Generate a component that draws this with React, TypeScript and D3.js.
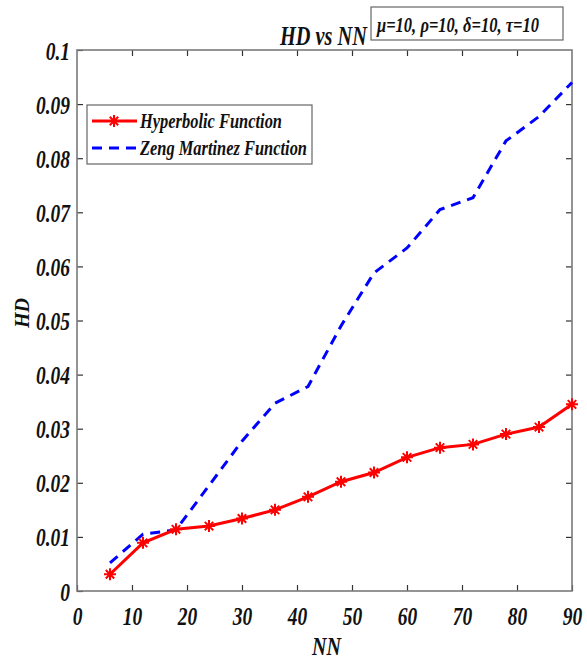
import React, { useEffect, useRef } from "react";
import * as d3 from "d3";

const width = 587;
const height = 661;

// x values (NN) and the two HD series
const nn = [6, 12, 18, 24, 30, 36, 42, 48, 54, 60, 66, 72, 78, 84, 90];
const hyperbolic = [
  0.0031, 0.0089, 0.0114, 0.012, 0.0134, 0.015, 0.0174, 0.0202, 0.0219,
  0.0247, 0.0265, 0.0271, 0.029, 0.0303, 0.0345,
];
const zengMartinez = [
  0.0052, 0.0105, 0.0113, 0.0195, 0.0277, 0.0347, 0.0378, 0.049, 0.0588,
  0.0634, 0.0705, 0.0727, 0.0832, 0.0877, 0.094,
];

const xTicks = [0, 10, 20, 30, 40, 50, 60, 70, 80, 90];
const yTicks = [0, 0.01, 0.02, 0.03, 0.04, 0.05, 0.06, 0.07, 0.08, 0.09, 0.1];
const yTickLabels = ["0", "0.01", "0.02", "0.03", "0.04", "0.05", "0.06", "0.07", "0.08", "0.09", "0.1"];

const seriesNames = ["Hyperbolic Function", "Zeng Martinez Function"];
const titleText = "HD vs NN";
const paramText = "μ=10, ρ=10, δ=10, τ=10";
const xLabel = "NN";
const yLabel = "HD";

const font = "'Liberation Serif', 'Times New Roman', serif";
const sx = 0.78; // narrow look of the tick labels

// matlab style '*' marker
function asterisk(cx: number, cy: number, r: number) {
  const d = r * 0.707;
  return (
    `M${cx - r},${cy}L${cx + r},${cy}M${cx},${cy - r}L${cx},${cy + r}` +
    `M${cx - d},${cy - d}L${cx + d},${cy + d}M${cx - d},${cy + d}L${cx + d},${cy - d}`
  );
}

export default function App() {
  const ref = useRef<SVGSVGElement>(null);

  useEffect(() => {
    const svg = d3.select(ref.current);
    svg.selectAll("*").remove();

    const x = d3.scaleLinear().domain([0, 90]).range([77, 572]);
    const y = d3.scaleLinear().domain([0, 0.1]).range([591, 50]);

    const styleText = (sel: any) =>
      sel.attr("font-family", font).attr("font-weight", "bold").attr("font-style", "italic").attr("fill", "#111");

    // axes, ticks pointing inward
    const bottom = svg
      .append("g")
      .attr("transform", `translate(0,${y(0)})`)
      .call(d3.axisBottom(x).tickValues(xTicks).tickSizeInner(-6).tickSizeOuter(0).tickFormat(d3.format("d")));
    bottom.selectAll("text")
      .attr("y", 16)
      .attr("dy", "0.71em")
      .attr("font-size", 25)
      .attr("transform", `scale(${sx},1)`)
      .call(styleText);

    const left = svg
      .append("g")
      .attr("transform", `translate(${x(0)},0)`)
      .call(
        d3.axisLeft(y).tickValues(yTicks).tickSizeInner(-6).tickSizeOuter(0)
          .tickFormat((d, i) => yTickLabels[i])
      );
    left.selectAll("text")
      .attr("x", -7 / sx)
      .attr("dy", "0.36em")
      .attr("font-size", 25)
      .attr("transform", `scale(${sx},1)`)
      .call(styleText);

    svg.append("g")
      .attr("transform", `translate(0,${y(0.1)})`)
      .call(d3.axisTop(x).tickValues(xTicks.slice(1, -1)).tickSizeInner(-6).tickSizeOuter(0).tickFormat(() => ""));
    svg.append("g")
      .attr("transform", `translate(${x(90)},0)`)
      .call(d3.axisRight(y).tickValues(yTicks.slice(1, -1)).tickSizeInner(-6).tickSizeOuter(0).tickFormat(() => ""));

    svg.selectAll(".domain").remove();
    svg.selectAll(".tick line").attr("stroke", "#333").attr("stroke-width", 1.2);

    svg.append("rect")
      .attr("x", x(0))
      .attr("y", y(0.1))
      .attr("width", x(90) - x(0))
      .attr("height", y(0) - y(0.1))
      .attr("fill", "none")
      .attr("stroke", "#7a7a7a")
      .attr("stroke-width", 1.6);

    // lines
    const line = d3.line<number>().x((d, i) => x(nn[i])).y((d) => y(d));

    svg.append("path")
      .attr("d", line(zengMartinez))
      .attr("fill", "none")
      .attr("stroke", "#0000ff")
      .attr("stroke-width", 3)
      .attr("stroke-dasharray", "10,7");

    svg.append("path")
      .attr("d", line(hyperbolic))
      .attr("fill", "none")
      .attr("stroke", "#ff0000")
      .attr("stroke-width", 3);

    svg.append("g")
      .selectAll("path")
      .data(hyperbolic)
      .join("path")
      .attr("d", (d, i) => asterisk(x(nn[i]), y(d), 6))
      .attr("stroke", "#ff0000")
      .attr("stroke-width", 2)
      .attr("fill", "none");

    // axis labels
    svg.append("text")
      .attr("x", 312)
      .attr("y", 655)
      .attr("font-size", 26)
      .attr("textLength", 29)
      .attr("lengthAdjust", "spacingAndGlyphs")
      .text(xLabel)
      .call(styleText);

    svg.append("text")
      .attr("transform", "translate(29,313) rotate(-90)")
      .attr("text-anchor", "middle")
      .attr("font-size", 20)
      .text(yLabel)
      .call(styleText);

    // title + parameter box
    svg.append("text")
      .attr("x", 280)
      .attr("y", 45)
      .attr("font-size", 27)
      .attr("textLength", 87)
      .attr("lengthAdjust", "spacingAndGlyphs")
      .text(titleText)
      .call(styleText);

    svg.append("rect")
      .attr("x", 371).attr("y", 7).attr("width", 192).attr("height", 33)
      .attr("fill", "#fff").attr("stroke", "#666").attr("stroke-width", 1.2);
    svg.append("text")
      .attr("x", 377)
      .attr("y", 32)
      .attr("font-size", 21)
      .attr("textLength", 162)
      .attr("lengthAdjust", "spacingAndGlyphs")
      .text(paramText)
      .call(styleText);

    // legend
    const lg = svg.append("g");
    lg.append("rect")
      .attr("x", 87).attr("y", 105).attr("width", 225).attr("height", 59)
      .attr("fill", "#fff").attr("stroke", "#666").attr("stroke-width", 1.2);
    lg.append("line")
      .attr("x1", 92).attr("x2", 137).attr("y1", 121).attr("y2", 121)
      .attr("stroke", "#ff0000").attr("stroke-width", 3);
    lg.append("path")
      .attr("d", asterisk(114, 121, 6))
      .attr("stroke", "#ff0000").attr("stroke-width", 2);
    lg.append("line")
      .attr("x1", 92).attr("x2", 137).attr("y1", 148).attr("y2", 148)
      .attr("stroke", "#0000ff").attr("stroke-width", 3).attr("stroke-dasharray", "10,7");
    const legendLens = [142, 167];
    seriesNames.forEach((name, i) => {
      lg.append("text")
        .attr("x", 140)
        .attr("y", 128 + i * 27)
        .attr("font-size", 20)
        .attr("textLength", legendLens[i])
        .attr("lengthAdjust", "spacingAndGlyphs")
        .text(name)
        .call(styleText);
    });
  }, []);

  return (
    <svg
      ref={ref}
      width={width}
      height={height}
      style={{ position: "absolute", left: 0, top: 0, background: "#fff" }}
    />
  );
}
